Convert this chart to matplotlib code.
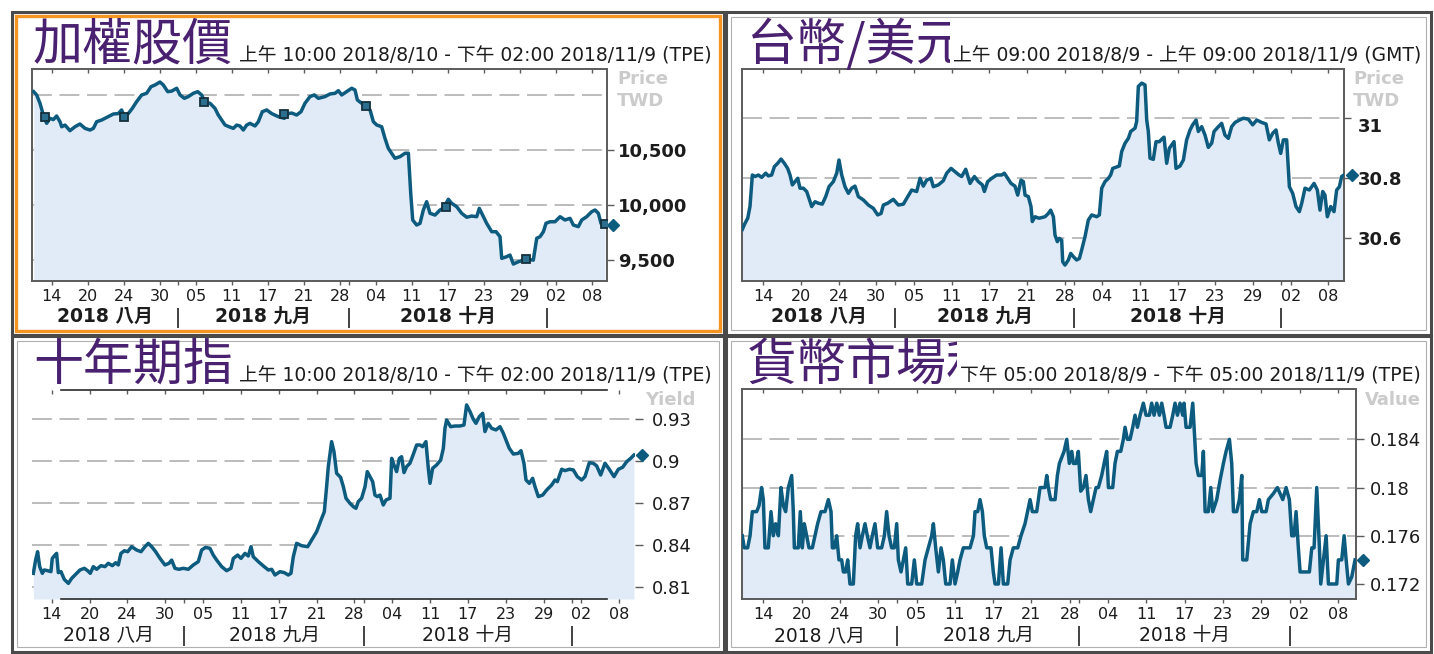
import numpy as np
import matplotlib
matplotlib.use('Agg')
import matplotlib.pyplot as plt
from matplotlib.patches import Rectangle
from matplotlib.transforms import blended_transform_factory, ScaledTranslation, Bbox

W, H = 1434, 654

# x axis is counted in trading days from 2018/8/10
tick_days = [2, 6, 10, 14, 18, 22, 26, 30, 34, 38, 42, 46, 50, 54, 58, 62]
tick_labels = ['14', '20', '24', '30', '05', '11', '17', '21', '28',
               '04', '11', '17', '23', '29', '02', '08']
month_starts = [16, 35, 57]
month_labels = ['2018 八月', '2018 九月', '2018 十月']

# 加權股價
taiex_t = [0.0, 0.33, 0.70, 1.07, 1.44, 1.81, 2.18, 2.55, 2.92, 3.11, 3.48, 4.03, 4.59, 5.14, 5.70,
           6.26, 6.63, 7.00, 7.55, 8.29, 8.85, 9.40, 9.77, 10.07, 10.51, 10.96, 11.44, 12.00, 12.55,
           13.03, 13.48, 14.03, 14.40, 14.89, 15.33, 15.89, 16.26, 16.74, 17.18, 17.74, 18.22, 18.66,
           19.03, 19.59, 20.14, 20.51, 20.89, 21.26, 21.70, 22.18, 22.55, 22.92, 23.29, 23.66, 24.03,
           24.59, 24.96, 25.40, 25.89, 26.44, 27.18, 27.85, 28.29, 28.66, 29.22, 29.70, 30.14, 30.70,
           31.18, 31.63, 32.37, 32.92, 33.48, 33.85, 34.22, 34.77, 35.33, 35.70, 35.96, 36.44, 36.92,
           37.37, 37.74, 38.11, 38.66, 39.03, 39.40, 39.77, 40.14, 40.70, 41.26, 41.63, 41.89, 42.11,
           42.55, 42.92, 43.29, 43.66, 44.03, 44.59, 45.14, 45.51, 46.07, 46.44, 47.00, 47.55, 48.11,
           48.66, 49.22, 49.51, 49.96, 50.33, 50.89, 51.37, 51.81, 52.00, 52.55, 52.92, 53.29, 53.85,
           54.40, 54.96, 55.51, 55.89, 56.26, 56.63, 56.92, 57.37, 57.92, 58.48, 59.03, 59.59, 59.96,
           60.51, 60.89, 61.44, 62.00, 62.37, 62.74, 63.03, 63.48]
taiex_v = [11035, 11005, 10929, 10822, 10746, 10792, 10780, 10813, 10761, 10715, 10730, 10679, 10715,
           10740, 10700, 10685, 10700, 10761, 10776, 10807, 10831, 10835, 10868, 10807, 10835, 10883,
           10944, 11005, 11020, 11080, 11096, 11123, 11096, 11035, 11040, 11066, 11005, 10974, 10990,
           11020, 11035, 11005, 10938, 10929, 10883, 10822, 10776, 10731, 10715, 10700, 10730, 10722,
           10685, 10730, 10746, 10722, 10761, 10852, 10868, 10835, 10807, 10792, 10835, 10840, 10822,
           10852, 10929, 10990, 11005, 10974, 10990, 11014, 11020, 11044, 11005, 11035, 11066, 11050,
           10959, 10929, 10904, 10868, 10761, 10731, 10715, 10609, 10518, 10473, 10427, 10442, 10473,
           10473, 10108, 9864, 9818, 9833, 9955, 10031, 9925, 9909, 9955, 9970, 10053, 10016, 9985,
           9925, 9889, 9900, 9894, 9970, 9894, 9833, 9757, 9757, 9712, 9514, 9529, 9544, 9462, 9483,
           9498, 9504, 9498, 9697, 9712, 9757, 9834, 9848, 9848, 9894, 9864, 9879, 9818, 9803, 9864,
           9894, 9940, 9955, 9925, 9833, 9818]
taiex_mark_t = [1.26, 10.07, 18.96, 27.85, 36.92, 45.81, 54.70, 63.48]
taiex_mark_v = [10807, 10807, 10938, 10828, 10904, 9980, 9505, 9825]

# 台幣/美元
fx_t = [-0.23, 0.05, 0.34, 0.58, 0.83, 1.12, 1.47, 1.82, 2.25, 2.53, 2.88, 3.17, 3.52, 3.88, 4.23,
        4.58, 4.83, 5.08, 5.36, 5.65, 5.89, 6.25, 6.60, 6.85, 7.13, 7.49, 7.84, 8.26, 8.62, 8.97,
        9.43, 9.79, 10.03, 10.32, 10.67, 11.03, 11.38, 11.73, 12.09, 12.62, 13.15, 13.68, 14.14,
        14.50, 14.74, 15.20, 15.80, 16.34, 16.87, 17.22, 17.75, 18.28, 18.64, 18.99, 19.34, 19.80,
        20.05, 20.58, 21.11, 21.47, 21.93, 22.35, 22.78, 23.06, 23.49, 23.95, 24.41, 24.83, 25.26,
        25.47, 25.82, 26.25, 26.78, 27.31, 27.59, 27.95, 28.30, 28.72, 29.01, 29.36, 29.61, 29.79,
        30.14, 30.42, 30.56, 30.85, 31.27, 31.91, 32.26, 32.51, 32.80, 32.97, 33.22, 33.43, 33.68,
        33.79, 34.03, 34.39, 34.64, 34.92, 35.27, 35.56, 35.80, 36.16, 36.51, 36.87, 37.40, 37.68,
        37.93, 38.28, 38.64, 38.88, 39.10, 39.45, 39.80, 40.05, 40.41, 40.76, 41.01, 41.47, 41.64,
        41.82, 42.18, 42.53, 42.71, 42.88, 43.06, 43.41, 43.70, 44.05, 44.30, 44.55, 44.83, 45.11,
        45.36, 45.61, 45.82, 46.25, 46.60, 46.95, 47.31, 47.59, 47.95, 48.19, 48.55, 48.90, 49.25,
        49.61, 49.86, 50.32, 50.67, 51.02, 51.38, 51.73, 52.09, 52.55, 52.97, 53.50, 53.96, 54.39,
        54.92, 55.38, 55.73, 56.09, 56.44, 56.69, 56.94, 57.22, 57.57, 57.86, 58.21, 58.56, 58.92,
        59.17, 59.52, 59.98, 60.48, 60.83, 61.11, 61.40, 61.64, 61.89, 62.25, 62.60, 62.88, 63.17,
        63.41, 63.66]
fx_v = [30.630, 30.650, 30.667, 30.706, 30.811, 30.806, 30.811, 30.803, 30.817, 30.808, 30.811, 30.839,
        30.850, 30.864, 30.850, 30.833, 30.811, 30.778, 30.789, 30.800, 30.767, 30.767, 30.756, 30.733,
        30.706, 30.722, 30.717, 30.714, 30.739, 30.772, 30.789, 30.817, 30.861, 30.811, 30.772, 30.750,
        30.767, 30.774, 30.739, 30.728, 30.711, 30.700, 30.678, 30.683, 30.711, 30.717, 30.730, 30.711,
        30.714, 30.733, 30.761, 30.756, 30.800, 30.774, 30.794, 30.800, 30.772, 30.778, 30.792, 30.817,
        30.833, 30.822, 30.811, 30.806, 30.830, 30.783, 30.806, 30.789, 30.778, 30.756, 30.789, 30.800,
        30.811, 30.811, 30.817, 30.800, 30.783, 30.774, 30.744, 30.794, 30.789, 30.744, 30.739, 30.706,
        30.656, 30.672, 30.667, 30.672, 30.683, 30.694, 30.672, 30.611, 30.589, 30.600, 30.594, 30.522,
        30.511, 30.528, 30.550, 30.539, 30.528, 30.533, 30.561, 30.606, 30.661, 30.678, 30.672, 30.678,
        30.767, 30.789, 30.800, 30.811, 30.833, 30.837, 30.841, 30.889, 30.917, 30.933, 30.956, 30.967,
        30.989, 31.106, 31.117, 31.111, 30.994, 30.956, 30.867, 30.863, 30.922, 30.922, 30.930, 30.937,
        30.850, 30.900, 30.911, 30.922, 30.833, 30.841, 30.861, 30.928, 30.961, 30.978, 30.994, 30.956,
        30.972, 30.944, 30.903, 30.917, 30.956, 30.972, 30.983, 30.944, 30.933, 30.972, 30.986, 30.994,
        31.000, 30.997, 30.978, 30.994, 30.986, 30.981, 30.928, 30.950, 30.961, 30.917, 30.883, 30.928,
        30.928, 30.772, 30.750, 30.706, 30.689, 30.717, 30.767, 30.761, 30.783, 30.761, 30.694, 30.756,
        30.744, 30.672, 30.706, 30.689, 30.761, 30.772, 30.806, 30.811]

# 十年期指
bond_t = [0.06, 0.30, 0.51, 0.73, 1.01, 1.22, 1.57, 1.92, 2.06, 2.35, 2.52, 2.70, 2.98, 3.33, 3.76,
          4.11, 4.53, 4.99, 5.45, 5.80, 6.08, 6.40, 6.75, 7.21, 7.63, 7.98, 8.41, 8.76, 9.04, 9.32,
          9.68, 10.03, 10.45, 10.98, 11.44, 11.86, 12.21, 12.57, 12.99, 13.45, 13.97, 14.40, 14.68,
          15.03, 15.45, 15.91, 16.44, 16.97, 17.50, 17.85, 18.27, 18.73, 19.08, 19.44, 19.97, 20.49,
          20.95, 21.20, 21.66, 22.01, 22.43, 22.78, 23.07, 23.31, 23.84, 24.37, 24.90, 25.25, 25.60,
          26.13, 26.59, 27.01, 27.29, 27.54, 27.89, 28.42, 29.06, 29.48, 30.01, 30.47, 30.82, 31.06,
          31.24, 31.59, 31.84, 32.12, 32.54, 32.83, 33.11, 33.53, 33.88, 34.16, 34.41, 34.76, 35.12,
          35.36, 35.65, 35.93, 36.17, 36.42, 36.70, 37.05, 37.34, 37.76, 37.94, 38.18, 38.46, 38.75,
          38.99, 39.24, 39.52, 39.87, 40.16, 40.58, 40.93, 41.21, 41.56, 41.81, 41.99, 42.27, 42.69,
          43.12, 43.40, 43.57, 43.75, 44.17, 44.63, 45.16, 45.58, 45.86, 46.22, 46.57, 46.85, 47.20,
          47.56, 47.80, 48.15, 48.51, 48.96, 49.39, 49.74, 50.09, 50.37, 50.80, 51.32, 51.61, 51.92,
          52.14, 52.49, 52.84, 53.09, 53.44, 53.90, 54.32, 54.85, 55.20, 55.45, 55.91, 56.26, 56.72,
          57.14, 57.56, 58.02, 58.37, 58.83, 59.25, 59.61, 60.03, 60.49, 60.94, 61.44, 61.90, 62.35,
          62.78, 63.20, 63.55]
bond_v = [0.8196, 0.8291, 0.8351, 0.8244, 0.8196, 0.8220, 0.8215, 0.8208, 0.8303, 0.8327, 0.8339,
          0.8201, 0.8208, 0.8153, 0.8124, 0.8160, 0.8189, 0.8220, 0.8232, 0.8215, 0.8196, 0.8244,
          0.8225, 0.8251, 0.8244, 0.8268, 0.8251, 0.8272, 0.8256, 0.8339, 0.8358, 0.8351, 0.8387,
          0.8363, 0.8351, 0.8387, 0.8411, 0.8387, 0.8351, 0.8303, 0.8256, 0.8268, 0.8291, 0.8232,
          0.8225, 0.8232, 0.8225, 0.8256, 0.8280, 0.8363, 0.8382, 0.8375, 0.8327, 0.8291, 0.8244,
          0.8215, 0.8232, 0.8303, 0.8327, 0.8303, 0.8339, 0.8320, 0.8387, 0.8315, 0.8280, 0.8249,
          0.8220, 0.8225, 0.8184, 0.8208, 0.8201, 0.8184, 0.8196, 0.8315, 0.8411, 0.8394, 0.8387,
          0.8435, 0.8495, 0.8578, 0.8638, 0.8817, 0.8961, 0.9140, 0.9068, 0.8913, 0.8884, 0.8817,
          0.8734, 0.8698, 0.8674, 0.8662, 0.8710, 0.8734, 0.8817, 0.8925, 0.8889, 0.8853, 0.8757,
          0.8746, 0.8757, 0.8686, 0.8722, 0.8734, 0.9020, 0.8973, 0.8925, 0.9020, 0.9032, 0.8918,
          0.8961, 0.8985, 0.9037, 0.9116, 0.9116, 0.9104, 0.9140, 0.8949, 0.8841, 0.8949, 0.8973,
          0.9008, 0.9092, 0.9235, 0.9295, 0.9247, 0.9252, 0.9252, 0.9259, 0.9403, 0.9355, 0.9300,
          0.9271, 0.9319, 0.9343, 0.9212, 0.9271, 0.9235, 0.9224, 0.9247, 0.9200, 0.9140, 0.9092,
          0.9051, 0.9056, 0.9075, 0.8985, 0.8865, 0.8841, 0.8877, 0.8817, 0.8746, 0.8757, 0.8793,
          0.8829, 0.8865, 0.8853, 0.8942, 0.8932, 0.8942, 0.8937, 0.8889, 0.8865, 0.8889, 0.8989,
          0.8985, 0.8966, 0.8901, 0.8985, 0.8942, 0.8889, 0.8942, 0.8956, 0.8996, 0.9020, 0.9044]

# 貨幣市場利率
mm_t = [-0.20, 0.01, 0.36, 0.61, 0.85, 1.30, 1.55, 1.82, 2.00, 2.17, 2.52, 2.80, 3.04, 3.29, 3.57,
        3.84, 4.09, 4.33, 4.61, 4.96, 5.13, 5.24, 5.65, 5.86, 6.07, 6.28, 6.53, 6.77, 7.12, 7.40,
        7.67, 8.02, 8.44, 8.79, 9.07, 9.21, 9.42, 9.66, 9.90, 10.18, 10.36, 10.60, 10.81, 11.05,
        11.40, 11.64, 11.85, 12.10, 12.34, 12.62, 12.86, 13.14, 13.38, 13.66, 13.94, 14.36, 14.64,
        14.88, 15.13, 15.40, 15.68, 15.93, 16.10, 16.38, 16.62, 16.87, 17.08, 17.49, 17.77, 18.02,
        18.54, 18.89, 19.23, 19.58, 19.76, 20.00, 20.28, 20.56, 20.80, 21.05, 21.50, 21.74, 22.02,
        22.30, 22.54, 22.89, 23.24, 23.59, 23.94, 24.11, 24.39, 24.63, 24.88, 25.08, 25.33, 25.78,
        26.02, 26.20, 26.55, 26.83, 27.07, 27.52, 27.77, 28.11, 28.57, 28.91, 29.33, 29.86, 30.10,
        30.55, 30.90, 31.42, 31.60, 31.77, 32.01, 32.47, 32.71, 32.92, 33.16, 33.41, 33.69, 33.96,
        34.21, 34.38, 34.66, 34.90, 35.15, 35.43, 35.70, 35.95, 36.19, 36.47, 36.75, 36.99, 37.34,
        37.59, 37.86, 38.04, 38.49, 38.73, 38.98, 39.33, 39.60, 39.78, 40.02, 40.30, 40.58, 40.82,
        41.07, 41.35, 41.69, 41.97, 42.32, 42.56, 42.81, 43.09, 43.37, 43.61, 43.85, 44.06, 44.48,
        44.76, 45.00, 45.25, 45.52, 45.80, 45.94, 46.15, 46.57, 46.85, 46.99, 47.20, 47.44, 47.79,
        47.96, 48.14, 48.48, 48.73, 48.94, 49.35, 49.70, 50.05, 50.33, 50.68, 50.92, 51.10, 51.44,
        51.72, 51.97, 52.07, 52.49, 52.84, 53.18, 53.53, 53.81, 54.06, 54.51, 54.75, 55.27, 55.69,
        55.97, 56.25, 56.60, 56.94, 57.19, 57.43, 57.64, 57.88, 58.06, 58.41, 58.76, 59.03, 59.28,
        59.52, 59.80, 60.08, 60.22, 60.50, 60.78, 61.02, 61.54, 61.89, 62.06, 62.41, 62.66, 62.87,
        63.11, 63.46, 63.80]
mm_v = [0.176, 0.175, 0.175, 0.176, 0.178, 0.178, 0.1785, 0.180, 0.179, 0.175, 0.175, 0.178, 0.176,
        0.177, 0.176, 0.180, 0.1785, 0.178, 0.180, 0.181, 0.178, 0.175, 0.175, 0.178, 0.175, 0.177,
        0.176, 0.175, 0.175, 0.176, 0.177, 0.178, 0.178, 0.179, 0.178, 0.175, 0.175, 0.176, 0.174,
        0.174, 0.173, 0.173, 0.174, 0.172, 0.172, 0.176, 0.177, 0.175, 0.176, 0.177, 0.176, 0.175,
        0.176, 0.177, 0.175, 0.175, 0.176, 0.178, 0.176, 0.175, 0.175, 0.177, 0.174, 0.173, 0.174,
        0.175, 0.172, 0.172, 0.174, 0.172, 0.172, 0.174, 0.175, 0.176, 0.177, 0.175, 0.173, 0.175,
        0.174, 0.172, 0.172, 0.174, 0.172, 0.173, 0.174, 0.175, 0.175, 0.175, 0.176, 0.178, 0.178,
        0.179, 0.178, 0.176, 0.175, 0.175, 0.173, 0.172, 0.172, 0.175, 0.172, 0.172, 0.174, 0.175,
        0.175, 0.176, 0.177, 0.179, 0.178, 0.178, 0.180, 0.180, 0.181, 0.180, 0.179, 0.179, 0.181,
        0.182, 0.1825, 0.183, 0.184, 0.182, 0.183, 0.182, 0.182, 0.183, 0.1797, 0.180, 0.181, 0.179,
        0.178, 0.179, 0.180, 0.180, 0.181, 0.182, 0.183, 0.180, 0.180, 0.182, 0.183, 0.183, 0.184,
        0.185, 0.184, 0.184, 0.185, 0.186, 0.185, 0.186, 0.187, 0.186, 0.186, 0.187, 0.186, 0.187,
        0.186, 0.187, 0.186, 0.185, 0.185, 0.186, 0.187, 0.186, 0.187, 0.186, 0.187, 0.185, 0.185,
        0.187, 0.185, 0.182, 0.181, 0.181, 0.183, 0.178, 0.178, 0.180, 0.178, 0.179, 0.1806, 0.182,
        0.183, 0.184, 0.182, 0.178, 0.178, 0.179, 0.181, 0.174, 0.174, 0.177, 0.178, 0.178, 0.179,
        0.178, 0.178, 0.179, 0.1795, 0.180, 0.1795, 0.179, 0.180, 0.179, 0.176, 0.176, 0.178, 0.175,
        0.173, 0.173, 0.173, 0.173, 0.175, 0.175, 0.180, 0.175, 0.172, 0.174, 0.176, 0.172, 0.172,
        0.172, 0.174, 0.174, 0.176, 0.174, 0.172, 0.1726, 0.174]

LINE = '#0d5b7f'
FILL = '#e1ebf8'
GRID = '#a9a9a9'
EDGE = '#5b5b5b'
TXT = '#1c1c1c'
TITLE = '#4a2170'
SOFT = '#cbcbcb'

plt.rcParams['font.family'] = ['DejaVu Sans', 'Noto Sans CJK TC']

fig = plt.figure(figsize=(W / 100, H / 100), dpi=100)
fig.patch.set_facecolor('white')


def px_axes(l, t, r, b):
    return fig.add_axes([l / W, 1 - b / H, (r - l) / W, (b - t) / H])


def fig_text(x, y, s, **kw):
    return fig.text(x / W, 1 - y / H, s, **kw)


def frame(l, t, r, b, color, lw):
    fig.add_artist(Rectangle((l / W, 1 - b / H), (r - l) / W, (b - t) / H,
                             transform=fig.transFigure, fill=False, ec=color, lw=lw))


def draw_chart(ax, t, v, xlim, ylim, grid, yticks, ylabels, bold, ylen=5, ypad=3):
    h = ax.get_position().height * H
    weight = 'bold' if bold else 'normal'
    for g in grid:
        ax.axhline(g, color=GRID, lw=1.1, dashes=(13, 5), zorder=1)
    ax.fill_between(t, v, ylim[0], color=FILL, lw=0, zorder=2)
    ax.plot(t, v, color=LINE, lw=2.5, zorder=3, solid_joinstyle='round')
    ax.plot(t[-1], v[-1], 'D', ms=6, color=LINE, clip_on=False, zorder=4,
            transform=ax.transData + ScaledTranslation(0.08, 0, fig.dpi_scale_trans))
    bt = blended_transform_factory(ax.transData, ax.transAxes)
    ax.vlines(tick_days, 1, 1 - 4 / h, transform=bt, color=EDGE, lw=1, clip_on=False)
    ax.vlines(tick_days + month_starts, 0, -4 / h, transform=bt, color=EDGE, lw=1, clip_on=False)
    for d, lab in zip(tick_days, tick_labels):
        ax.text(d, -15.5 / h, lab, transform=bt, ha='center', va='center',
                fontsize=11.5, color=TXT)
    ax.vlines(month_starts, -27 / h, -47 / h, transform=bt, color='#333333', lw=1.3,
              clip_on=False)
    bounds = [xlim[0]] + month_starts + [xlim[1]]
    for i, lab in enumerate(month_labels):
        ax.text((bounds[i] + bounds[i + 1]) / 2, -36 / h, lab, transform=bt, ha='center',
                va='center', fontsize=13.5, fontweight=weight, color=TXT)
    ax.set_xlim(*xlim)
    ax.set_ylim(*ylim)
    ax.set_xticks([])
    ax.yaxis.tick_right()
    ax.set_yticks(yticks)
    ax.set_yticklabels(ylabels, fontsize=13, fontweight=weight)
    ax.tick_params(axis='y', length=ylen, width=1, color=EDGE, labelcolor=TXT, pad=ypad)
    for s in ax.spines.values():
        s.set_color(EDGE)
        s.set_linewidth(1.4)
    return ax


# panel frames
frame(12, 12, 724, 335, '#4a4a4a', 2.2)
frame(726, 12, 1431, 335, '#4a4a4a', 2.2)
frame(12, 336, 724, 652, '#4a4a4a', 2.2)
frame(726, 336, 1431, 652, '#4a4a4a', 2.2)
frame(16, 16, 720, 331, '#f39423', 2.4)
frame(731, 17, 1426, 330, '#b0b0b0', 0.8)
frame(17, 341, 719, 647, '#b0b0b0', 0.8)
frame(731, 341, 1426, 647, '#b0b0b0', 0.8)

ax1 = draw_chart(px_axes(31.7, 69.3, 607.3, 280.7), taiex_t, taiex_v, (-0.22, 63.73),
                 (9310, 11239), [9500, 10000, 10500, 11000], [9500, 10000, 10500],
                 ['9,500', '10,000', '10,500'], True)
ax1.plot(taiex_mark_t, taiex_mark_v, 's', ms=6, mfc='#2b6e8e', mec='#15303d', mew=1.3,
         ls='none', zorder=4)

ax2 = draw_chart(px_axes(741.7, 69.3, 1344, 280.7), fx_t, fx_v, (-0.30, 63.66),
                 (30.459, 31.163), [30.6, 30.8, 31.0], [30.6, 30.8, 31.0],
                 ['30.6', '30.8', '31'], True, ypad=5)
lab31 = ax2.get_yticklabels()[-1]
lab31.set_transform(lab31.get_transform() + ScaledTranslation(0, -0.07, fig.dpi_scale_trans))

ax3 = draw_chart(px_axes(32.3, 390, 635, 599), bond_t, bond_v, (-0.05, 63.66),
                 (0.8012, 0.951), [0.81, 0.84, 0.87, 0.90, 0.93], [0.81, 0.84, 0.87, 0.90, 0.93],
                 ['0.81', '0.84', '0.87', '0.9', '0.93'], False, ylen=6, ypad=6)
for s in ax3.spines.values():
    s.set_visible(False)
for yy in (1.0, 0.0):
    ax3.plot([0.0476, 0.953], [yy, yy], transform=ax3.transAxes, color='#2a2a2a', lw=1.2,
             clip_on=False, zorder=5)

ax4 = draw_chart(px_axes(741.7, 389.3, 1356, 599.3), mm_t, mm_v, (-0.26, 63.90),
                 (0.17073, 0.18815), [0.172, 0.176, 0.18, 0.184], [0.172, 0.176, 0.18, 0.184],
                 ['0.172', '0.176', '0.18', '0.184'], False, ylen=6, ypad=4)

# unit captions
for x, y, s in [(617, 79, 'Price'), (617, 101, 'TWD'), (1353, 79, 'Price'),
                (1353, 101, 'TWD'), (645, 400, 'Yield'), (1365, 400, 'Value')]:
    fig_text(x, y, s, fontsize=13, fontweight='bold', color=SOFT, va='center')

cjk = ['Noto Sans CJK TC']
titles = []
for x, y, s in [(33, 60, '加權股價'), (747, 60, '台幣/美元'), (33, 380, '十年期指'),
                (747, 380, '貨幣市場利率')]:
    titles.append(fig_text(x, y, s, fontsize=36, color=TITLE, family=cjk, va='baseline'))

subs = []
for x, y, s in [(712, 62, '上午 10:00 2018/8/10 - 下午 02:00 2018/11/9 (TPE)'),
                (1421, 62, '上午 09:00 2018/8/9 - 上午 09:00 2018/11/9 (GMT)'),
                (712, 382, '上午 10:00 2018/8/10 - 下午 02:00 2018/11/9 (TPE)'),
                (1421, 382, '下午 05:00 2018/8/9 - 下午 05:00 2018/11/9 (TPE)')]:
    subs.append(fig_text(x, y, s, fontsize=13.5, color=TXT, ha='right', va='baseline'))

# the range caption hides the end of the longer titles
fig.canvas.draw()
renderer = fig.canvas.get_renderer()
for i in (1, 3):
    bb = subs[i].get_window_extent(renderer)
    titles[i].set_clip_box(Bbox.from_extents(0, 0, bb.x0 - 3, H))
    titles[i].set_clip_on(True)

fig.savefig('out.png', dpi=100)
